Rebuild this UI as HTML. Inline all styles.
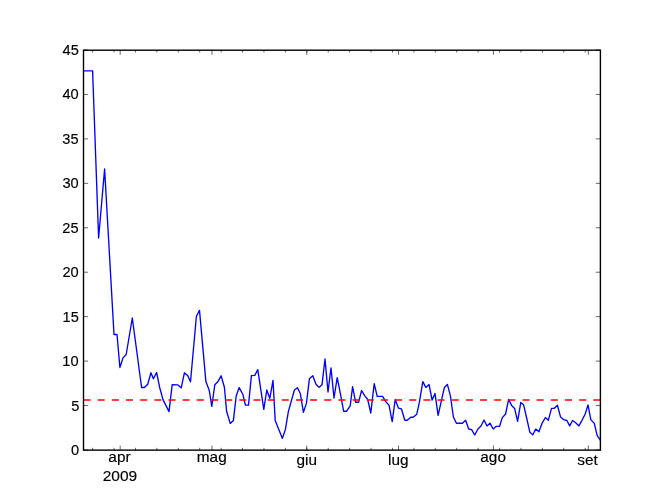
<!DOCTYPE html>
<html><head><meta charset="utf-8"><style>
html,body{margin:0;padding:0;background:#fff;width:667px;height:500px;overflow:hidden}
svg{display:block;will-change:transform}
text{font-family:"Liberation Sans",sans-serif;font-size:14.5px;fill:#000;stroke:#000;stroke-width:0.15px}
</style></head><body>
<svg width="667" height="500" viewBox="0 0 667 500">
<rect width="667" height="500" fill="#fff"/>
<defs><clipPath id="c"><rect x="83.5" y="50.2" width="516.9" height="399.93"/></clipPath></defs>
<g clip-path="url(#c)">
<path d="M83.00,70.80 L92.60,70.80 L98.60,238.00 L104.60,169.00 L114.00,334.50 L117.00,334.50 L119.90,367.50 L123.00,357.90 L126.20,354.50 L132.30,318.00 L141.60,387.50 L144.40,387.50 L147.70,384.20 L150.96,372.80 L153.40,378.80 L156.60,372.50 L159.60,387.20 L163.00,399.60 L169.00,411.60 L172.20,384.60 L177.60,384.80 L181.20,387.80 L184.40,372.80 L187.80,375.80 L190.50,381.80 L196.40,316.20 L199.50,310.40 L205.90,381.60 L209.20,390.20 L211.80,406.40 L214.80,384.80 L217.80,381.80 L221.10,375.80 L224.40,387.20 L226.60,411.20 L230.20,423.40 L233.40,420.40 L236.20,396.00 L239.20,387.60 L242.80,394.20 L245.40,405.10 L248.50,405.10 L251.40,375.60 L254.80,375.40 L257.80,369.60 L261.40,393.60 L263.80,409.40 L266.80,390.00 L269.80,398.40 L273.00,380.40 L275.20,420.40 L282.40,438.40 L285.40,429.40 L288.40,411.40 L294.40,390.00 L297.50,387.70 L300.40,393.80 L303.40,412.40 L306.40,403.40 L309.40,378.80 L312.80,375.80 L316.00,384.20 L319.00,387.40 L322.00,384.80 L325.00,359.00 L328.00,392.00 L331.00,368.00 L334.00,398.00 L337.20,377.60 L340.30,393.20 L343.60,411.20 L346.60,411.20 L350.20,405.80 L352.60,386.60 L355.60,402.20 L358.60,402.20 L361.60,390.50 L364.60,395.60 L367.60,399.20 L370.80,413.00 L374.20,383.60 L377.20,396.40 L382.60,396.40 L385.60,401.40 L389.00,405.20 L392.20,421.60 L395.20,399.50 L398.50,408.20 L401.40,408.80 L404.80,420.20 L407.20,420.20 L410.80,417.20 L413.20,417.20 L416.80,414.20 L419.40,402.20 L422.80,381.60 L425.80,387.40 L429.00,384.40 L432.10,400.00 L435.00,393.40 L438.10,415.40 L444.40,387.40 L447.40,384.40 L450.40,395.80 L453.40,417.00 L456.40,423.20 L462.40,423.20 L465.60,420.30 L468.70,429.00 L471.60,429.60 L474.70,435.00 L478.00,429.00 L481.00,426.00 L484.00,420.00 L487.00,426.00 L490.00,423.20 L493.20,429.00 L496.30,426.30 L499.60,426.30 L502.30,417.60 L505.60,414.00 L508.60,399.40 L511.60,405.40 L514.60,408.40 L517.60,421.40 L520.80,402.40 L523.60,404.80 L526.90,419.00 L529.80,432.20 L532.80,434.70 L535.70,429.10 L538.90,431.80 L542.00,423.40 L545.40,417.50 L548.30,420.30 L551.50,408.30 L554.30,408.30 L557.40,405.20 L560.60,417.10 L563.50,419.60 L566.90,420.50 L569.70,425.90 L572.60,420.50 L575.70,422.80 L578.90,425.90 L582.00,420.30 L585.20,414.00 L588.00,404.90 L590.80,419.60 L594.30,423.40 L597.10,435.40 L600.50,440.50" fill="none" stroke="#0000ff" stroke-width="1.35" stroke-linejoin="round" stroke-linecap="butt"/>
<line x1="83.55" y1="400.0" x2="600.4" y2="400.0" stroke="#ff0000" stroke-width="1.7" stroke-dasharray="7.0 7.16"/>
</g>
<path d="M83.5,450.00h4.6M600.4,450.00h-4.6M83.5,405.56h4.6M600.4,405.56h-4.6M83.5,361.11h4.6M600.4,361.11h-4.6M83.5,316.67h4.6M600.4,316.67h-4.6M83.5,272.22h4.6M600.4,272.22h-4.6M83.5,227.78h4.6M600.4,227.78h-4.6M83.5,183.33h4.6M600.4,183.33h-4.6M83.5,138.89h4.6M600.4,138.89h-4.6M83.5,94.44h4.6M600.4,94.44h-4.6M83.5,50.00h4.6M600.4,50.00h-4.6M120.16,450.13v-4.6M120.16,50.2v4.6M211.95,450.13v-4.6M211.95,50.2v4.6M306.79,450.13v-4.6M306.79,50.2v4.6M398.58,450.13v-4.6M398.58,50.2v4.6M493.42,450.13v-4.6M493.42,50.2v4.6M588.27,450.13v-4.6M588.27,50.2v4.6M92.63,450.13v-2.3M92.63,50.2v2.3M114.05,450.13v-2.3M114.05,50.2v2.3M135.46,450.13v-2.3M135.46,50.2v2.3M156.88,450.13v-2.3M156.88,50.2v2.3M178.29,450.13v-2.3M178.29,50.2v2.3M199.71,450.13v-2.3M199.71,50.2v2.3M221.13,450.13v-2.3M221.13,50.2v2.3M242.54,450.13v-2.3M242.54,50.2v2.3M263.96,450.13v-2.3M263.96,50.2v2.3M285.38,450.13v-2.3M285.38,50.2v2.3M306.79,450.13v-2.3M306.79,50.2v2.3M328.21,450.13v-2.3M328.21,50.2v2.3M349.63,450.13v-2.3M349.63,50.2v2.3M371.04,450.13v-2.3M371.04,50.2v2.3M392.46,450.13v-2.3M392.46,50.2v2.3M413.88,450.13v-2.3M413.88,50.2v2.3M435.29,450.13v-2.3M435.29,50.2v2.3M456.71,450.13v-2.3M456.71,50.2v2.3M478.13,450.13v-2.3M478.13,50.2v2.3M499.54,450.13v-2.3M499.54,50.2v2.3M520.96,450.13v-2.3M520.96,50.2v2.3M542.38,450.13v-2.3M542.38,50.2v2.3M563.79,450.13v-2.3M563.79,50.2v2.3M585.21,450.13v-2.3M585.21,50.2v2.3" fill="none" stroke="#000" stroke-width="0.6"/>
<rect x="83.5" y="50.2" width="516.9" height="399.93" fill="none" stroke="#000" stroke-width="1.4"/>
<text transform="matrix(1.0093 0 0 0.9850 71.05 454.75)">0</text><text transform="matrix(1.0093 0 0 0.9850 71.20 410.76)">5</text><text transform="matrix(1.0093 0 0 0.9850 62.36 365.87)">10</text><text transform="matrix(1.0093 0 0 0.9850 62.51 321.86)">15</text><text transform="matrix(1.0093 0 0 0.9850 62.42 276.87)">20</text><text transform="matrix(1.0093 0 0 0.9850 62.30 232.52)">25</text><text transform="matrix(1.0093 0 0 0.9850 62.46 187.92)">30</text><text transform="matrix(1.0093 0 0 0.9850 62.36 143.62)">35</text><text transform="matrix(1.0093 0 0 0.9850 62.49 99.12)">40</text><text transform="matrix(1.0093 0 0 0.9850 62.54 55.05)">45</text><text transform="matrix(1.0613 0 0 0.9850 108.33 461.80)">apr</text><text transform="matrix(1.0613 0 0 0.9850 196.81 461.80)">mag</text><text transform="matrix(1.0613 0 0 0.9850 296.57 464.80)">giu</text><text transform="matrix(1.0613 0 0 0.9850 388.02 464.80)">lug</text><text transform="matrix(1.0613 0 0 0.9850 480.28 461.80)">ago</text><text transform="matrix(1.0613 0 0 0.9850 577.22 464.80)">set</text><text transform="matrix(1.0715 0 0 0.9850 102.70 480.77)">2009</text>
</svg>
</body></html>
